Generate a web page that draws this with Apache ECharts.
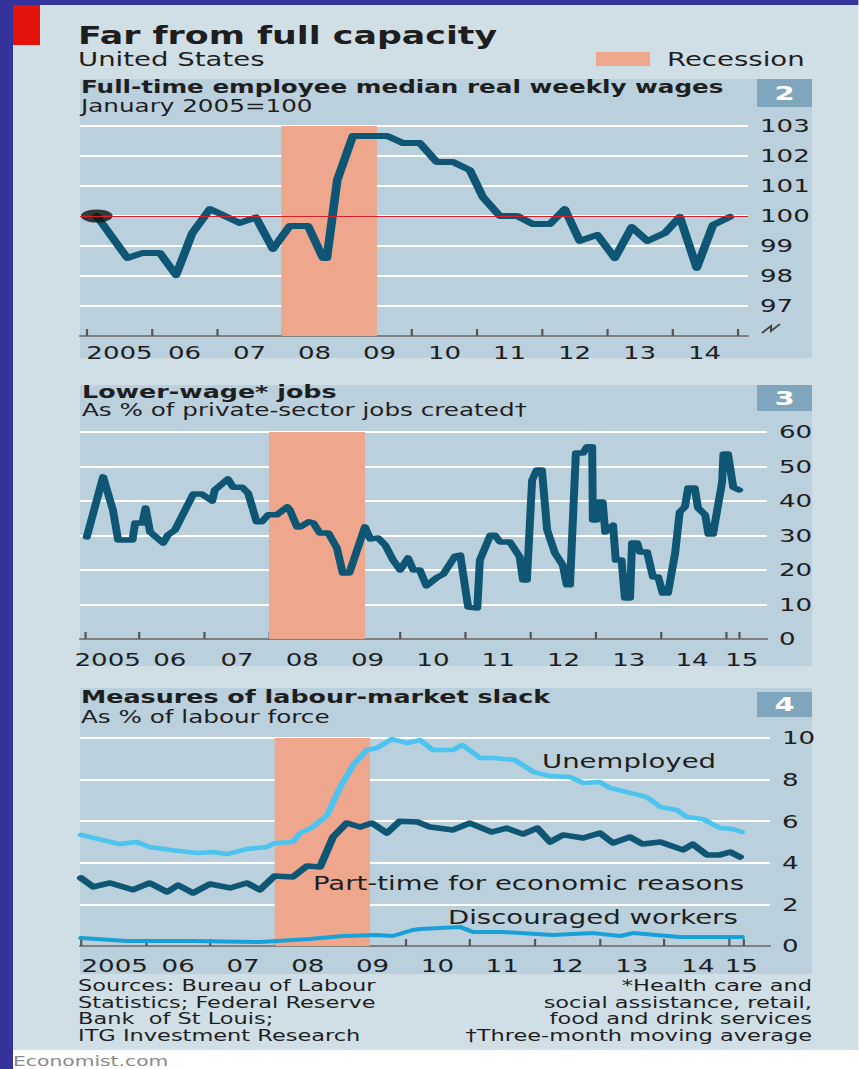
<!DOCTYPE html>
<html>
<head>
<meta charset="utf-8">
<script src="https://cdn.jsdelivr.net/npm/echarts@6/dist/echarts.min.js"></script>
<style>
html, body { margin: 0; padding: 0; background: #fff; overflow: hidden; }
#chart { height: 1069px; transform-origin: 0 0; }
</style>
</head>
<body>
<div id="chart"></div>
<script>
// the original graphic is stretched sideways, so draw narrow and stretch the whole chart
const S = 1.45;
const sx = v => v / S;

// panel 2: full-time median real weekly wages, Jan 2005 = 100
const wageX = [2005.15, 2005.62, 2005.86, 2006.12, 2006.37, 2006.62, 2006.89, 2007.35, 2007.6, 2007.86,
  2008.12, 2008.4, 2008.63, 2008.69, 2008.85, 2009.09, 2009.62, 2009.86, 2010.12, 2010.38,
  2010.63, 2010.89, 2011.09, 2011.35, 2011.62, 2011.86, 2012.12, 2012.35, 2012.58, 2012.85,
  2013.12, 2013.38, 2013.62, 2013.89, 2014.12, 2014.38, 2014.63, 2014.89];
const wageY = [100, 98.6, 98.77, 98.77, 98.03, 99.43, 100.23, 99.77, 99.95, 98.9,
  99.67, 99.67, 98.6, 98.6, 101.2, 102.67, 102.67, 102.43, 102.43, 101.8,
  101.8, 101.53, 100.63, 100, 100, 99.73, 99.73, 100.23, 99.17, 99.37,
  98.6, 99.63, 99.17, 99.43, 99.97, 98.27, 99.7, 99.97];
const wageBase = 100;
const wageTicks = [2005, 2006, 2007, 2008, 2009, 2010, 2011, 2012, 2013, 2014, 2015];
const wageLabelPos = [2005.5, 2006.5, 2007.5, 2008.5, 2009.5, 2010.5, 2011.5, 2012.5, 2013.5, 2014.5];
const wageLabels = ['2005', '06', '07', '08', '09', '10', '11', '12', '13', '14'];

// panel 3: lower-wage jobs, % of private-sector jobs created
const jobsX = [2005.2, 2005.45, 2005.6, 2005.68, 2005.9, 2005.94, 2006.05, 2006.1, 2006.17, 2006.37,
  2006.44, 2006.55, 2006.83, 2006.96, 2007.12, 2007.16, 2007.36, 2007.44, 2007.58, 2007.67,
  2007.8, 2007.88, 2007.98, 2008.11, 2008.27, 2008.31, 2008.42, 2008.47, 2008.6, 2008.67,
  2008.77, 2008.9, 2009.03, 2009.12, 2009.22, 2009.46, 2009.54, 2009.66, 2009.77, 2009.89,
  2010.0, 2010.12, 2010.2, 2010.3, 2010.4, 2010.56, 2010.66, 2010.84, 2010.92, 2011.04,
  2011.18, 2011.22, 2011.38, 2011.45, 2011.53, 2011.68, 2011.83, 2011.88, 2011.94, 2012.02,
  2012.09, 2012.17, 2012.25, 2012.37, 2012.49, 2012.55, 2012.6, 2012.69, 2012.8, 2012.86,
  2012.94, 2012.95, 2013.01, 2013.03, 2013.1, 2013.14, 2013.26, 2013.3, 2013.39, 2013.44,
  2013.52, 2013.55, 2013.63, 2013.67, 2013.78, 2013.87, 2013.95, 2014.02, 2014.1, 2014.21,
  2014.28, 2014.36, 2014.41, 2014.51, 2014.56, 2014.67, 2014.72, 2014.79, 2014.93, 2014.95,
  2015.02, 2015.1, 2015.19];
const jobsY = [29.6, 47, 37.4, 28.7, 28.7, 33.6, 33.6, 38, 31, 27.8,
  30.1, 31.6, 42, 42, 40, 43.2, 46.4, 44, 44, 42.3,
  34, 34, 36, 36, 38.3, 37.4, 32.5, 32.5, 34, 33.6,
  30.7, 30.7, 26.4, 19.1, 19.1, 32.5, 29, 29.3, 27.2, 22.9,
  20, 23.5, 20, 20, 15.4, 17.8, 18.8, 24, 24.3, 9.3,
  9, 22.9, 30.1, 30.1, 28.1, 28.1, 23.8, 17.1, 17.1, 46,
  49, 49, 31.6, 24.9, 21.4, 15.7, 15.7, 53.9, 53.9, 55.7,
  55.7, 34.5, 34.5, 39.7, 39.7, 31, 33, 22.9, 22.9, 11.9,
  11.9, 27.8, 27.8, 25.2, 25.2, 18, 18, 13.3, 13.3, 24.9,
  36.8, 38.3, 43.8, 43.8, 38, 36, 30.4, 30.4, 45.5, 53.6,
  53.6, 44, 43.2];
const jobsTicks = [2005.17, 2006, 2007, 2008, 2009, 2010, 2011, 2012, 2013, 2014, 2015, 2015.18];
const jobsLabelPos = [2005.52, 2006.47, 2007.5, 2008.5, 2009.5, 2010.5, 2011.5, 2012.5, 2013.5, 2014.47, 2015.23];
const jobsLabels = ['2005', '06', '07', '08', '09', '10', '11', '12', '13', '14', '15'];

// panel 4: labour-market slack, % of labour force
const unempX = [2005.0, 2005.6, 2005.86, 2006.06, 2006.42, 2006.79, 2007.04, 2007.25, 2007.56, 2007.87,
  2007.99, 2008.27, 2008.38, 2008.58, 2008.8, 2009.0, 2009.2, 2009.41, 2009.57, 2009.8,
  2010.03, 2010.23, 2010.43, 2010.74, 2010.88, 2010.93, 2011.16, 2011.36, 2011.7, 2011.98,
  2012.24, 2012.55, 2012.75, 2013.01, 2013.16, 2013.43, 2013.73, 2013.94, 2014.2, 2014.35,
  2014.6, 2014.86, 2015.06, 2015.2];
const unempY = [5.34, 4.9, 5.0, 4.76, 4.6, 4.47, 4.52, 4.42, 4.66, 4.76,
  4.95, 5.0, 5.43, 5.72, 6.3, 7.64, 8.7, 9.42, 9.52, 9.95,
  9.76, 9.9, 9.42, 9.42, 9.66, 9.57, 9.04, 9.04, 8.94, 8.37,
  8.17, 8.12, 7.84, 7.88, 7.6, 7.4, 7.16, 6.68, 6.54, 6.2,
  6.1, 5.67, 5.62, 5.48];
const partX = [2005.0, 2005.19, 2005.45, 2005.8, 2006.06, 2006.33, 2006.5, 2006.73, 2006.99, 2007.3,
  2007.56, 2007.76, 2007.99, 2008.27, 2008.49, 2008.69, 2008.89, 2009.1, 2009.31, 2009.49,
  2009.72, 2009.92, 2010.2, 2010.39, 2010.74, 2011.0, 2011.34, 2011.57, 2011.82, 2012.04,
  2012.24, 2012.44, 2012.75, 2013.01, 2013.21, 2013.47, 2013.67, 2013.94, 2014.29, 2014.44,
  2014.66, 2014.86, 2015.02, 2015.17];
const partY = [3.27, 2.84, 3.03, 2.7, 3.03, 2.6, 2.93, 2.55, 2.98, 2.79,
  3.03, 2.7, 3.37, 3.32, 3.85, 3.8, 5.24, 5.91, 5.72, 5.91,
  5.43, 6.0, 5.96, 5.72, 5.58, 5.91, 5.48, 5.67, 5.38, 5.67,
  5.0, 5.34, 5.19, 5.43, 4.95, 5.24, 4.9, 5.0, 4.62, 4.9,
  4.38, 4.38, 4.52, 4.28];
const discX = [2005.0, 2005.71, 2006.73, 2007.76, 2008.53, 2009.04, 2009.57, 2009.81, 2010.12, 2010.23,
  2010.85, 2011.05, 2011.51, 2012.28, 2012.9, 2013.32, 2013.52, 2014.24, 2015.2];
const discY = [0.38, 0.24, 0.24, 0.19, 0.34, 0.48, 0.53, 0.48, 0.77, 0.82,
  0.91, 0.67, 0.67, 0.53, 0.62, 0.48, 0.62, 0.43, 0.43];
const slackTicks = [2005, 2006, 2007, 2008, 2009, 2010, 2011, 2012, 2013, 2014, 2015, 2015.22];
const slackLabelPos = [2005.52, 2006.5, 2007.5, 2008.5, 2009.5, 2010.5, 2011.5, 2012.5, 2013.5, 2014.52, 2015.19];
const slackLabels = ['2005', '06', '07', '08', '09', '10', '11', '12', '13', '14', '15'];

const recession = [2007.99, 2009.46];

const FONT = '"DejaVu Sans", sans-serif';
const INK = '#1e1e1e';
const DARK = '#0f5674';
const REC = '#eea78d';
const PANEL = '#bad0dc';

const zip = (xs, ys) => xs.map((x, i) => [x, ys[i]]);
const pick = (pos, labels) => v => {
  const i = pos.findIndex(p => Math.abs(p - v) < 1e-6);
  return i < 0 ? '' : labels[i];
};

function txt(x, y, s, size, extra) {
  return {
    type: 'text', x: sx(x), y: y, z: 50, silent: true,
    style: Object.assign({
      text: s, fontFamily: FONT, fontSize: size, fontWeight: 'normal', fill: INK,
      textAlign: 'left', textVerticalAlign: 'middle', align: 'left', verticalAlign: 'middle'
    }, extra || {})
  };
}
function box(x, y, w, h, fill, z) {
  return { type: 'rect', silent: true, z: z, shape: { x: sx(x), y: y, width: sx(w), height: h }, style: { fill: fill } };
}

function xAxis(grid, min, max, ticks, pos, labels, margin) {
  return {
    type: 'value', gridIndex: grid, min: min, max: max,
    axisLine: { show: true, onZero: false, lineStyle: { color: '#555', width: 1.5 } },
    axisTick: { show: true, inside: true, length: 7, customValues: ticks, lineStyle: { color: '#555', width: 1.5 } },
    axisLabel: { customValues: pos, formatter: pick(pos, labels), fontFamily: FONT, fontSize: 18, color: INK, margin: margin },
    splitLine: { show: false }
  };
}
function yAxis(grid, min, max, step, hideMin) {
  return {
    type: 'value', gridIndex: grid, position: 'right', min: min, max: max, interval: step,
    axisLine: { show: false }, axisTick: { show: false },
    axisLabel: {
      fontFamily: FONT, fontSize: 18, color: INK, margin: sx(12),
      formatter: v => (hideMin && v === min ? '' : String(v))
    },
    splitLine: { lineStyle: { color: '#ffffff', width: 1.8 } }
  };
}
function shade(i) {
  return {
    type: 'line', xAxisIndex: i, yAxisIndex: i, data: [], z: 1, silent: true,
    markArea: { silent: true, itemStyle: { color: REC }, data: [[{ xAxis: recession[0] }, { xAxis: recession[1] }]] }
  };
}
function line(i, data, color, width, z) {
  return {
    type: 'line', xAxisIndex: i, yAxisIndex: i, data: data, symbol: 'none', z: z, silent: true,
    lineStyle: { color: color, width: width, join: 'round', cap: 'round' }
  };
}

const graphics = [
  box(0, 0, 859, 1069, '#ffffff', -20),
  box(13, 5, 846, 1045, '#d0dee6', -19),
  box(0, 0, 859, 5, '#33339b', -18),
  box(0, 0, 13, 1069, '#33339b', -18),
  box(13, 5, 27, 40, '#e3120b', -17),
  box(80, 79, 732, 279, PANEL, -16),
  box(80, 385, 732, 281, PANEL, -16),
  box(80, 688, 732, 286, PANEL, -16),
  box(757, 79, 55, 28, '#80a6bd', -15),
  box(757, 385, 55, 26, '#80a6bd', -15),
  box(757, 692, 55, 25, '#80a6bd', -15),
  box(596, 52, 54, 14, REC, -15),
  txt(78, 35.5, 'Far from full capacity', 24, { fontWeight: 'bold', lineHeight: 22 }),
  txt(78, 59.5, 'United States', 19, { lineHeight: 19 }),
  txt(667, 59.5, 'Recession', 19, { lineHeight: 19 }),
  txt(81, 87, 'Full-time employee median real weekly wages', 17, { fontWeight: 'bold' }),
  txt(81, 106, 'January 2005=100', 17),
  txt(784.5, 93, '2', 20, { fontWeight: 'bold', fill: '#fff', textAlign: 'center', align: 'center' }),
  txt(82, 392, 'Lower-wage* jobs', 17.5, { fontWeight: 'bold' }),
  txt(82, 410, 'As % of private-sector jobs created\u2020', 17),
  txt(784.5, 398, '3', 20, { fontWeight: 'bold', fill: '#fff', textAlign: 'center', align: 'center' }),
  txt(81, 697, 'Measures of labour-market slack', 17.5, { fontWeight: 'bold' }),
  txt(81, 717, 'As % of labour force', 17),
  txt(784.5, 704.5, '4', 20, { fontWeight: 'bold', fill: '#fff', textAlign: 'center', align: 'center' }),
  txt(542, 762, 'Unemployed', 19),
  txt(313, 883.5, 'Part-time for economic reasons', 19),
  txt(448, 918, 'Discouraged workers', 19),
  {
    type: 'polyline', silent: true, z: 50,
    shape: { points: [[sx(762), 333], [sx(771), 326], [sx(771), 331], [sx(780), 324]] },
    style: { stroke: '#444', lineWidth: 1.5, fill: null }
  }
];

const leftNotes = ['Sources: Bureau of Labour', 'Statistics; Federal Reserve', 'Bank  of St Louis;', 'ITG Investment Research'];
const rightNotes = ['*Health care and', 'social assistance, retail,', 'food and drink services', '\u2020Three-month moving average'];
const noteY = [986, 1002.5, 1019, 1035.5];
leftNotes.forEach((s, i) => graphics.push(txt(78, noteY[i], s, 15.5, { lineHeight: 16 })));
rightNotes.forEach((s, i) => graphics.push(txt(812, noteY[i], s, 15.5, { lineHeight: 16, textAlign: 'right', align: 'right' })));
graphics.push(txt(13, 1061, 'Economist.com', 14, { fill: '#8a8a8a' }));

const el = document.getElementById('chart');
el.style.width = (859 / S) + 'px';
el.style.transform = 'scaleX(' + S + ')';
const chart = echarts.init(el, null, { renderer: 'svg' });

const option = {
  animation: false,
  backgroundColor: '#ffffff',
  graphic: { elements: graphics },
  grid: [
    { left: sx(80), width: sx(668), top: 126, height: 210, outerBoundsMode: 'none' },
    { left: sx(80), width: sx(687), top: 432, height: 207, outerBoundsMode: 'none' },
    { left: sx(80), width: sx(690), top: 738, height: 208, outerBoundsMode: 'none' }
  ],
  xAxis: [
    xAxis(0, 2004.892, 2015.169, wageTicks, wageLabelPos, wageLabels, 8),
    xAxis(1, 2005.096, 2015.617, jobsTicks, jobsLabelPos, jobsLabels, 12),
    xAxis(2, 2004.985, 2015.633, slackTicks, slackLabelPos, slackLabels, 11)
  ],
  yAxis: [
    yAxis(0, 96, 103, 1, true),
    yAxis(1, 0, 60, 10, false),
    yAxis(2, 0, 10, 2, false)
  ],
  series: [
    shade(0),
    {
      type: 'line', xAxisIndex: 0, yAxisIndex: 0, data: [], z: 2, silent: true,
      markLine: { silent: true, symbol: 'none', label: { show: false }, lineStyle: { color: '#d6202a', width: 1, type: 'solid' }, data: [{ yAxis: wageBase }] }
    },
    line(0, zip(wageX, wageY), DARK, 6, 3),
    {
      type: 'scatter', xAxisIndex: 0, yAxisIndex: 0, data: [[wageX[0], wageY[0]]], z: 4, silent: true,
      symbol: 'circle', symbolSize: [22, 13], itemStyle: { color: '#111' }
    },
    shade(1),
    line(1, zip(jobsX, jobsY), DARK, 5.5, 3),
    shade(2),
    line(2, zip(discX, discY), '#1aa0d8', 4, 3),
    line(2, zip(partX, partY), DARK, 5.5, 3),
    line(2, zip(unempX, unempY), '#4cc4ef', 4.5, 3)
  ]
};
chart.setOption(option);
</script>
</body>
</html>
